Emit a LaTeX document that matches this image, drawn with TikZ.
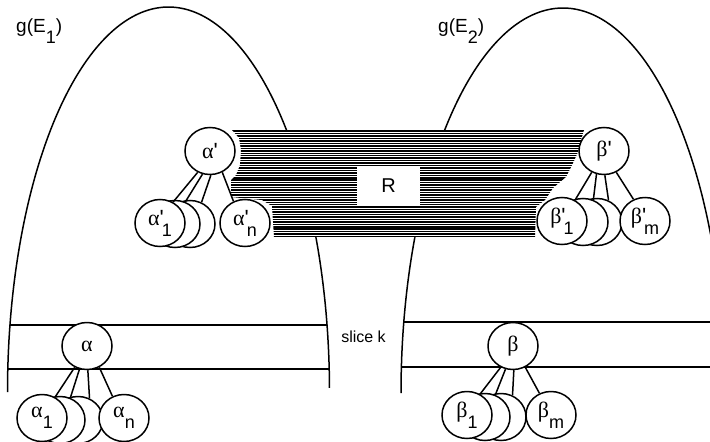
\documentclass[tikz,border=0pt]{standalone}
\usepackage{fontspec}
\setmainfont{Liberation Sans}
\newfontfamily\grk{Liberation Serif}
\usetikzlibrary{shapes.geometric}
\newcommand\lo[1]{\raisebox{-11pt}{\fontsize{18}{18}\selectfont #1}}
\newcommand\myal{{\grk α}}
\newcommand\mybe{{\grk β}}
\newcommand\mypr{\textquotesingle}
\begin{document}
\begin{tikzpicture}[x=1pt,y=-1pt,
  ball/.style={ellipse,draw,fill=white,line width=1.5pt,minimum width=50pt,minimum height=47pt,inner sep=0pt,font=\fontsize{22}{22}\selectfont},
  link/.style={line width=1.5pt},
  curve/.style={line width=1.5pt},
  band/.style={line width=1.3pt},
  hatch/.style={line width=1.5pt},
  lbl/.style={inner sep=0pt,font=\fontsize{19}{19}\selectfont}]
\clip (0,0) rectangle (710,442);
\fill[white] (0,0) rectangle (710,442);

% arches
\draw[curve] plot[domain=180:0.6,samples=160] ({168.5+161*cos(\x)},{392-385*sin(\x)});
\draw[curve] plot[domain=180:0,samples=160] ({563+162*cos(\x)},{393-385*sin(\x)});

% slice bands
\begin{scope}
\clip plot[domain=180:0,samples=100] ({168.5+161*cos(\x)},{392-385*sin(\x)}) -- cycle;
\draw[band] (0,325) -- (340,325) (0,369) -- (340,369);
\end{scope}
\begin{scope}
\clip plot[domain=180:0,samples=100] ({563+162*cos(\x)},{393-385*sin(\x)}) -- cycle;
\draw[band] (390,322) -- (710,322) (390,367) -- (710,367);
\end{scope}
\node[lbl,font=\fontsize{16}{16}\selectfont,anchor=base] (sl) at (363.5,342) {slice k};

% hatched relation R
\def\hpoly{(232,130) -- (239,138) -- (241,150) -- (240,165) -- (236,175) -- (231,180) -- (231,197) -- (262,200) -- (272,206) -- (274,237) -- (535,237) -- (536,207) -- (545,200) -- (553,188) -- (566,177) -- (573,163) -- (578,152) -- (581,140) -- (584,130) -- cycle}
\fill[white] \hpoly;
\begin{scope}
\clip \hpoly;
\foreach \k in {0,...,43} \draw[hatch] (220,{131.2+2.45*\k}) -- (600,{131.2+2.45*\k});
\end{scope}
\node[fill=white,minimum width=63pt,minimum height=38pt,inner sep=0pt,font=\fontsize{20}{20}\selectfont] (R) at (388.5,186) {R};

% labels of the sets
\node[lbl,anchor=base west] (g1) at (16,32) {g(E\lo{1})};
\node[lbl,anchor=base west] (g2) at (438,32) {g(E\lo{2})};

% alpha' group
\node[ball] (ap3) at (190,224) {};
\node[ball] (ap2) at (175,224) {};
\node[ball] (ap1) at (160,223) {\myal\mypr\hspace{-2pt}\lo{1}};
\node[ball] (apn) at (245,223) {\myal\mypr\hspace{-2pt}\lo{n}};
\node[ball] (ap) at (210,151) {\myal\mypr};
\draw[link] (ap.-120) -- (ap1.58) (ap.-108) -- (ap2.65) (ap.-88) -- (ap3.62) (ap.-60) -- (apn.118);

% beta' group
\node[ball] (bp3) at (597,222) {};
\node[ball] (bp2) at (583,222) {};
\node[ball] (bp1) at (562,221) {\mybe\mypr\hspace{-2pt}\lo{1}};
\node[ball] (bpm) at (645,221) {\mybe\mypr\hspace{-2pt}\lo{m}};
\node[ball] (bp) at (604,151) {\mybe\mypr};
\draw[link] (bp.-120) -- (bp1.58) (bp.-108) -- (bp2.65) (bp.-88) -- (bp3.62) (bp.-60) -- (bpm.118);

% alpha group
\node[ball] (a3) at (78,420) {};
\node[ball] (a2) at (60,420) {};
\node[ball] (a1) at (42,418) {\myal\lo{1}};
\node[ball] (an) at (124,418) {\myal\lo{n}};
\node[ball] (a) at (87,346) {\myal};
\draw[link] (a.-120) -- (a1.58) (a.-108) -- (a2.65) (a.-88) -- (a3.62) (a.-60) -- (an.118);

% beta group
\node[ball] (b3) at (501,417) {};
\node[ball] (b2) at (485,417) {};
\node[ball] (b1) at (467,415) {\mybe\lo{1}};
\node[ball] (bm) at (551,415) {\mybe\lo{m}};
\node[ball] (b) at (513,346) {\mybe};
\draw[link] (b.-120) -- (b1.58) (b.-108) -- (b2.65) (b.-88) -- (b3.62) (b.-60) -- (bm.118);
\end{tikzpicture}
\end{document}
